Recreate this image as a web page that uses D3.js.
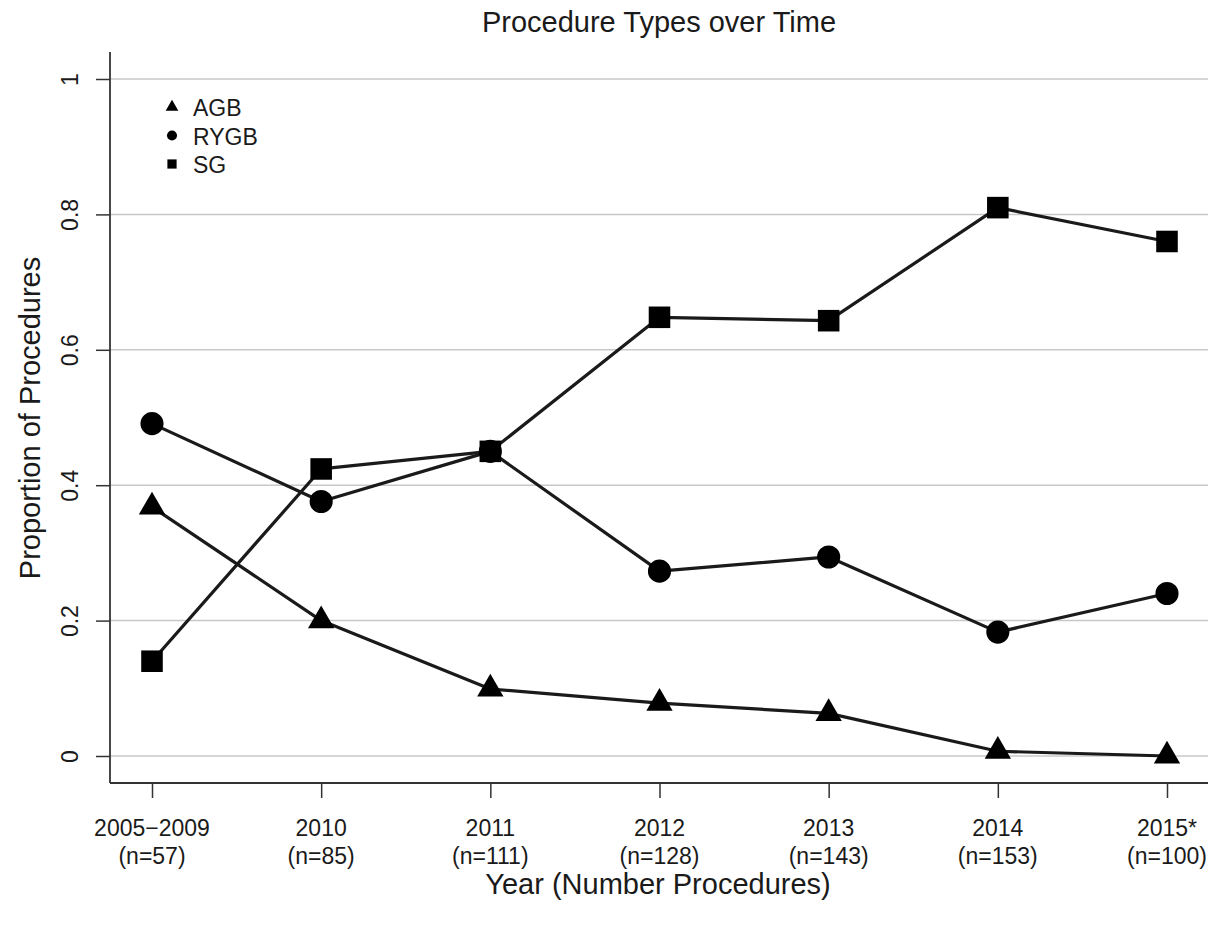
<!DOCTYPE html>
<html>
<head>
<meta charset="utf-8">
<script src="https://cdn.jsdelivr.net/npm/d3@7"></script>
<style>
  html, body { margin: 0; padding: 0; background: #fff; }
  svg, svg text { font-family: "Liberation Sans", Arial, Helvetica, sans-serif; }
  svg { display: block; }
</style>
</head>
<body>
<svg id="chart" width="1227" height="931"></svg>
<script>
// Year groups and procedure counts
const years = ["2005\u22122009", "2010", "2011", "2012", "2013", "2014", "2015*"];
const counts = [57, 85, 111, 128, 143, 153, 100];

// Proportion of procedures by type
const agb  = [0.368, 0.200, 0.099, 0.078, 0.063, 0.007, 0.000];
const rygb = [0.491, 0.376, 0.450, 0.273, 0.294, 0.183, 0.240];
const sg   = [0.140, 0.424, 0.450, 0.648, 0.643, 0.810, 0.760];

const yTicks = [0, 0.2, 0.4, 0.6, 0.8, 1];

const series = [
  { name: "AGB", values: agb, shape: "triangle" },
  { name: "RYGB", values: rygb, shape: "circle" },
  { name: "SG", values: sg, shape: "square" }
];

const svg = d3.select("#chart");
const plot = { left: 110, right: 1208, top: 52, bottom: 783 };
const fontFamily = '"Liberation Sans", Arial, Helvetica, sans-serif';

const x = d3.scalePoint()
  .domain(years)
  .range([152, 1167]);

const y = d3.scaleLinear()
  .domain([0, 1])
  .range([756, 79]);

const ink = "#1a1a1a";
const axisColor = "#333";

// Horizontal grid lines
svg.append("g")
  .selectAll("line")
  .data(yTicks)
  .join("line")
  .attr("x1", plot.left).attr("x2", plot.right)
  .attr("y1", d => y(d)).attr("y2", d => y(d))
  .attr("stroke", "#c8c8c8").attr("stroke-width", 1.5);

// Left axis
const yAxis = svg.append("g")
  .attr("transform", `translate(${plot.left},0)`)
  .call(d3.axisLeft(y).tickValues(yTicks).tickFormat(d => d === 0 || d === 1 ? String(d) : d3.format(".1f")(d)).tickSize(14).tickSizeOuter(0));
yAxis.attr("font-family", fontFamily);
yAxis.select(".domain").remove();
yAxis.selectAll(".tick line").attr("stroke", axisColor).attr("stroke-width", 1.5);
yAxis.selectAll(".tick text")
  .attr("x", 0).attr("dy", 0)
  .attr("transform", "translate(-40,0) rotate(-90)")
  .attr("text-anchor", "middle")
  .attr("dominant-baseline", "central")
  .attr("font-size", 23)
  .attr("fill", ink);
svg.append("line")
  .attr("x1", plot.left).attr("x2", plot.left)
  .attr("y1", plot.top).attr("y2", plot.bottom)
  .attr("stroke", axisColor).attr("stroke-width", 1.8);

// Bottom axis
const xAxis = svg.append("g")
  .attr("transform", `translate(0,${plot.bottom})`)
  .call(d3.axisBottom(x).tickSize(15).tickFormat(""));
xAxis.select(".domain").remove();
xAxis.selectAll(".tick line").attr("stroke", axisColor).attr("stroke-width", 1.5);
svg.append("line")
  .attr("x1", plot.left).attr("x2", plot.right)
  .attr("y1", plot.bottom).attr("y2", plot.bottom)
  .attr("stroke", axisColor).attr("stroke-width", 1.8);

// Two-line category labels
const xl = svg.append("g")
  .selectAll("text")
  .data(years)
  .join("text")
  .attr("text-anchor", "middle")
  .attr("font-size", 23)
  .attr("fill", ink);
xl.append("tspan").attr("x", d => x(d)).attr("y", 836).text(d => d);
xl.append("tspan").attr("x", d => x(d)).attr("y", 864).text((d, i) => `(n=${counts[i]})`);

// Titles
svg.append("text")
  .attr("x", 659).attr("y", 32)
  .attr("text-anchor", "middle")
  .attr("font-size", 29).attr("fill", ink)
  .text("Procedure Types over Time");

svg.append("text")
  .attr("x", 658).attr("y", 894)
  .attr("text-anchor", "middle")
  .attr("font-size", 29).attr("fill", ink)
  .text("Year (Number Procedures)");

svg.append("text")
  .attr("transform", "translate(40,418) rotate(-90)")
  .attr("text-anchor", "middle")
  .attr("font-size", 29).attr("fill", ink)
  .text("Proportion of Procedures");

// Marker shapes (d3 triangles are centred on their centroid)
const symbolFor = {
  triangle: d3.symbolTriangle,
  circle: d3.symbolCircle,
  square: d3.symbolSquare
};
const sizeFor = { triangle: 300, circle: 420, square: 465 };

const line = d3.line()
  .x((d, i) => x(years[i]))
  .y(d => y(d));

const lines = svg.append("g");
series.forEach(s => {
  lines.append("path")
    .datum(s.values)
    .attr("d", line)
    .attr("fill", "none")
    .attr("stroke", ink)
    .attr("stroke-width", 3.2)
    .attr("stroke-linejoin", "round");
});

const marks = svg.append("g");
series.forEach(s => {
  marks.append("g")
    .selectAll("path")
    .data(s.values)
    .join("path")
    .attr("d", d3.symbol().type(symbolFor[s.shape]).size(sizeFor[s.shape]))
    .attr("transform", (d, i) => `translate(${x(years[i])},${y(d)})`)
    .attr("fill", "#000");
});

// Legend
const legend = svg.append("g").attr("transform", "translate(172,107)");
const legendSize = { triangle: 70, circle: 80, square: 85 };
series.forEach((s, i) => {
  const row = legend.append("g").attr("transform", `translate(0,${i * 28.5})`);
  row.append("path")
    .attr("d", d3.symbol().type(symbolFor[s.shape]).size(legendSize[s.shape]))
    .attr("fill", "#000");
  row.append("text")
    .attr("x", 21).attr("y", 1)
    .attr("dominant-baseline", "central")
    .attr("font-size", 23).attr("fill", ink)
    .text(s.name);
});
</script>
</body>
</html>
